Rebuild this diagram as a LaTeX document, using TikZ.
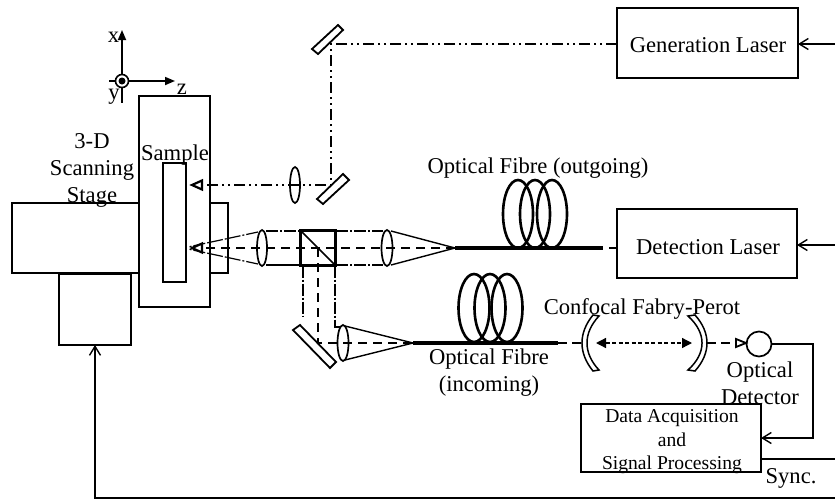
\documentclass[tikz,border=0pt]{standalone}
\usepackage{fontspec}
\setmainfont{Liberation Serif}
\usetikzlibrary{arrows.meta}
\tikzset{
  every node/.style={inner sep=0pt,outer sep=0pt},
  lab/.style={font=\fontsize{22.6}{27}\selectfont,align=center},
  smalllab/.style={font=\fontsize{19.6}{23.5}\selectfont,align=center},
  ln/.style={line width=1.7pt,black},
  boxx/.style={draw,line width=1.7pt,rectangle},
  thin beam/.style={line width=1.2pt,dash pattern=on 12pt off 2pt on 2pt off 2pt},
  dd/.style={line width=1.7pt,dash pattern=on 11pt off 4pt on 2pt off 4pt on 2pt off 4pt},
  mainb/.style={line width=2.1pt,dash pattern=on 9pt off 6pt},
  barb/.style={-{Straight Barb[length=9pt,width=11pt,line width=1.4pt]}},
  opentri/.style={draw,line width=2.2pt,fill=white,line join=miter},
  fibre/.style={line width=3.8pt},
  coil/.style={line width=2.6pt},
}
\begin{document}
\begin{tikzpicture}[x=1pt,y=-1pt]
\useasboundingbox (0,0) rectangle (835,501);
% axes
\coordinate (O) at (122,81);
\coordinate (xt) at (122,30);
\coordinate (zt) at (175,81);
\coordinate (yb) at (122,103);
\coordinate (yl) at (109,81);
\draw[ln,-{Triangle[length=10pt,width=8pt]}] (O) -- (xt);
\draw[ln,-{Triangle[length=10pt,width=8pt]}] (O) -- (zt);
\draw[ln] (O) -- (yb);
\draw[ln] (yl) -- (O);
\node[draw,circle,fill=white,minimum size=13pt,line width=1.6pt] (ycirc) at (O) {};
\fill (O) circle (3.5pt);
\node[lab] (xl) at (113.5,37) {x};
\node[lab] (zl) at (182,89) {z};
\node[lab] (yy) at (114,97) {y};
% stage
\node[boxx,minimum width=127pt,minimum height=70pt] (stg) at (75.5,238) {};
\node[boxx,minimum width=72pt,minimum height=71pt] (stgb) at (95,309.5) {};
\node[boxx,minimum width=18pt,minimum height=70pt] (rb) at (219,238) {};
\node[boxx,fill=white,minimum width=71pt,minimum height=211pt] (hold) at (174.5,201.5) {};
\node[boxx,fill=white,minimum width=23pt,minimum height=119pt] (samp) at (174.5,222.5) {};
\node[lab] (sl) at (175,155) {Sample};
\node[lab] (st) at (92,170) {3-D\\Scanning\\Stage};
% boxes
\node[boxx,minimum width=181pt,minimum height=70pt] (gl) at (707.5,43) {};
\node[lab] (glt) at (708,45) {Generation Laser};
\node[boxx,minimum width=180pt,minimum height=69pt] (dl) at (707,243.5) {};
\node[lab] (dlt) at (708,247) {Detection Laser};
\node[boxx,minimum width=180pt,minimum height=68pt] (da) at (671,438) {};
\node[smalllab] (dat) at (672,442) {Data Acquisition\\and\\Signal Processing};
\node[draw,circle,line width=1.7pt,minimum size=25pt] (det) at (759,344) {};
% labels
\node[lab] (ofo) at (538,168) {Optical Fibre (outgoing)};
\node[lab] (ofi) at (489,373) {Optical Fibre\\(incoming)};
\node[lab] (cfp) at (642,309) {Confocal Fabry-Perot};
\node[lab] (od) at (760,383) {Optical\\Detector};
\node[lab] (sy) at (791,478) {Sync.};
% outer connectors
\coordinate (e1) at (835,44);
\coordinate (e2) at (835,245);
\coordinate (e3) at (835,459);
\coordinate (e4) at (835,498);
\coordinate (c4) at (95,498);
\coordinate (c1) at (813,344);
\coordinate (c2) at (813,438);
\draw[ln,barb] (e1) -- (gl.east |- e1);
\draw[ln,barb] (e2) -- (dl.east |- e2);
\draw[ln,barb] (det.east) -- (c1) -- (c2) -- (da.east |- c2);
\draw[ln] (da.east |- e3) -- (e3);
\draw[ln,barb] (e4) -- (c4) -- (stgb.south -| c4);
% generation beam
\coordinate (m1) at (331,44);
\coordinate (m2) at (331,185);
\coordinate (ta1) at (199,185);
\coordinate (ta2) at (199,248);
\draw[dd] (gl.west |- m1) -- (m1) -- (m2) -- (ta1);
\draw[line width=1.8pt,fill=white] (312,49) coordinate (a1) -- (338,25) -- (343,30) -- (318,54) -- cycle;
\draw[line width=1.8pt,fill=white] (317,199) coordinate (a2) -- (343,174) -- (349,180) -- (323,204) -- cycle;
\draw[ln] (295,185) ellipse (5pt and 18pt);
\coordinate (l0) at (295,185);
\draw[line width=1.6pt] (290,185) -- (300,185);
\draw[opentri] (192,185) -- (202,180.5) -- (202,189.5) -- cycle;
% main beam
\coordinate (lens1) at (262,248);
\coordinate (lens2) at (387,248);
\coordinate (lens3) at (343,343);
\coordinate (fo) at (455,248);
\coordinate (fi) at (413,343);
\draw[mainb] (fo) -- (ta2);
\draw[thin beam] (266,231) -- (300,231);
\draw[ln] (266,265) -- (300,265);
\draw[thin beam] (336,231) -- (383,231);
\draw[thin beam] (336,265) -- (383,265);
\draw[thin beam] (258,232) -- (188,247);
\draw[thin beam] (258,264) -- (188,249);
\draw[line width=1.4pt] (391,231) -- (fo);
\draw[line width=1.4pt] (391,265) -- (fo);
\draw[opentri] (192,248) -- (202,243.5) -- (202,252.5) -- cycle;
\draw[ln] (lens1) ellipse (5pt and 18pt);
\draw[ln] (lens2) ellipse (5.5pt and 18pt);
\node[draw,line width=2.1pt,minimum size=35pt] (cube) at (318,248) {};
\draw[line width=1.6pt] (cube.north west) -- (cube.south east);
% lower beam
\draw[thin beam] (cube.south west -| 303,0) -- (303,317);
\draw[thin beam] (cube.south east -| 335,0) -- (335,327) -- (340,327);
\draw[mainb] (318,248) -- (318,343) -- (fi);
\draw[line width=1.8pt,fill=white] (293,330) coordinate (a3) -- (300,325) -- (336,362) -- (330,368) -- cycle;
\draw[line width=1.4pt] (345,326) -- (fi);
\draw[line width=1.4pt] (345,360) -- (fi);
\draw[ln] (lens3) ellipse (5.5pt and 18pt);
% fibres
\coordinate (fo2) at (603,248);
\coordinate (fi2) at (558,343);
\draw[fibre] (fo) -- (fo2);
\draw[line width=1.8pt] (609,248) -- (dl.west |- fo2);
\draw[fibre] (fi) -- (fi2);
\foreach \cx in {518,535,552} \draw[coil] (\cx,214) ellipse (15pt and 34pt);
\foreach \cx in {474,490,507} \draw[coil] (\cx,308) ellipse (15.5pt and 34pt);
% Fabry-Perot
\coordinate (fpl) at (582,343);
\coordinate (fpr) at (707,343);
\draw[line width=1.5pt] (593,315) .. controls (578.3,333) and (578.3,353) .. (593,371) -- (599,370) .. controls (583,353) and (583,333) .. (599,316) -- cycle;
\draw[line width=1.5pt] (695,315) .. controls (711,333) and (711,353) .. (695,371) -- (688,370) .. controls (706.7,353) and (706.7,333) .. (688,316) -- cycle;
\draw[line width=1.8pt,dash pattern=on 9pt off 5pt] (fi2) -- (fpl);
\draw[line width=1.3pt,dash pattern=on 4pt off 2.5pt,{Stealth[length=10pt,width=10pt,inset=0pt]}-{Stealth[length=10pt,width=10pt,inset=0pt]}] (596,343) -- (692,343);
\draw[line width=1.8pt,dash pattern=on 9pt off 5pt] (fpr) -- (736,343);
\draw[opentri,line width=1.8pt] (746,343) -- (736,339) -- (736,347) -- cycle;
\end{tikzpicture}
\end{document}
